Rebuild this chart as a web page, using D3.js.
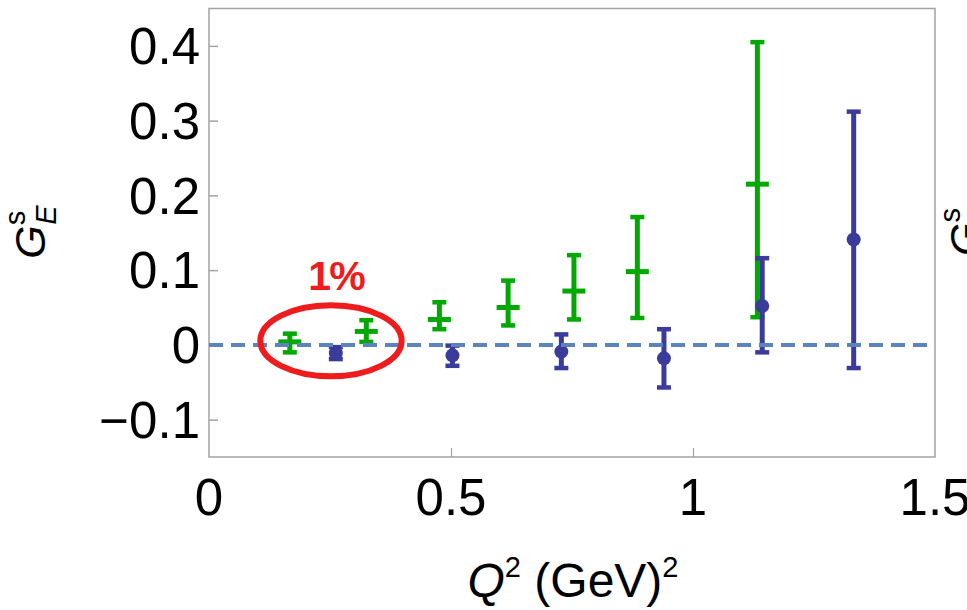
<!DOCTYPE html>
<html>
<head>
<meta charset="utf-8">
<script src="https://cdn.jsdelivr.net/npm/d3@7/dist/d3.min.js"></script>
<style>
  body { margin: 0; background: #ffffff; }
  svg { display: block; }
  text { font-family: "Liberation Sans", Arial, Helvetica, sans-serif; fill: #000; }
</style>
</head>
<body>
<svg id="chart" width="967" height="610"></svg>
<script>
// Axis ticks
const xTicks = [0, 0.5, 1, 1.5];
const xTickLabels = ["0", "0.5", "1", "1.5"];
const yTicks = [-0.1, 0, 0.1, 0.2, 0.3, 0.4];
const yTickLabels = ["\u22120.1", "0", "0.1", "0.2", "0.3", "0.4"];

// Green series: Q^2, central value, lower and upper end of the error bar
const greenQ2 = [0.167, 0.325, 0.476, 0.618, 0.754, 0.885, 1.133];
const greenVal = [0.004, 0.018, 0.034, 0.050, 0.072, 0.098, 0.215];
const greenLo = [-0.010, 0.004, 0.021, 0.026, 0.034, 0.036, 0.037];
const greenHi = [0.015, 0.033, 0.057, 0.086, 0.120, 0.171, 0.405];

// Blue series: Q^2, central value, lower and upper end of the error bar
const blueQ2 = [0.262, 0.503, 0.728, 0.940, 1.143, 1.332];
const blueVal = [-0.011, -0.014, -0.009, -0.018, 0.052, 0.141];
const blueLo = [-0.019, -0.028, -0.031, -0.057, -0.010, -0.031];
const blueHi = [-0.003, -0.001, 0.014, 0.021, 0.116, 0.312];

// Highlighted low-Q^2 region and its note
const noteText = "1%";
const highlightQ2 = [0.106, 0.398];   // horizontal extent of the ellipse
const highlightG = [-0.042, 0.053];   // vertical extent of the ellipse

const greenColor = "#00a800";
const blueColor = "#3b3b9c";
const zeroColor = "#5b84bf";
const frameColor = "#a3a3a3";
const noteColor = "#ee1c1c";

const svg = d3.select("#chart");
const plotLeft = 209, plotRight = 935, plotTop = 8.5, plotBottom = 457;

const x = d3.scaleLinear().domain([0, 1.5]).range([plotLeft, plotRight]);
const y = d3.scaleLinear().domain([-0.15, 0.45]).range([plotBottom, plotTop]);

// Plot frame
svg.append("rect")
  .attr("x", plotLeft).attr("y", plotTop)
  .attr("width", plotRight - plotLeft).attr("height", plotBottom - plotTop)
  .attr("fill", "none").attr("stroke", frameColor).attr("stroke-width", 1.5);

// Inward ticks on the left and bottom edges
const yAxis = d3.axisRight(y).tickValues(yTicks).tickSize(9).tickFormat("");
svg.append("g").attr("transform", `translate(${plotLeft},0)`).call(yAxis)
  .call(g => g.select(".domain").remove())
  .call(g => g.selectAll("line").attr("stroke", frameColor).attr("stroke-width", 1.5));

const xAxis = d3.axisTop(x).tickValues(xTicks.slice(1, -1)).tickSize(9).tickFormat("");
svg.append("g").attr("transform", `translate(0,${plotBottom})`).call(xAxis)
  .call(g => g.select(".domain").remove())
  .call(g => g.selectAll("line").attr("stroke", frameColor).attr("stroke-width", 1.2));

// Tick labels
svg.append("g").selectAll("text").data(yTicks).join("text")
  .attr("x", plotLeft - 9).attr("y", d => y(d)).attr("dy", "0.36em")
  .attr("text-anchor", "end").attr("font-size", 51)
  .text((d, i) => yTickLabels[i]);

svg.append("g").selectAll("text").data(xTicks).join("text")
  .attr("x", d => x(d)).attr("y", 515)
  .attr("text-anchor", "middle").attr("font-size", 51)
  .text((d, i) => xTickLabels[i]);

// Axis titles
const xTitle = svg.append("text").attr("x", 573).attr("y", 597)
  .attr("text-anchor", "middle").attr("font-size", 48);
xTitle.append("tspan").attr("font-style", "italic").text("Q");
xTitle.append("tspan").attr("font-size", 29).attr("dy", -20).text("2");
xTitle.append("tspan").attr("dy", 20).text("\u00a0(GeV)");
xTitle.append("tspan").attr("font-size", 29).attr("dy", -20).text("2");

function yTitle(tx, sub) {
  const t = svg.append("text")
    .attr("transform", `translate(${tx},232) rotate(-90)`)
    .attr("text-anchor", "middle").attr("font-size", 43);
  t.append("tspan").attr("font-style", "italic").text("G");
  t.append("tspan").attr("font-size", 29).attr("dy", -20).text("s");
  if (sub) {
    t.append("tspan").attr("font-size", 29).attr("font-style", "italic")
      .attr("dx", -14).attr("dy", 31).text(sub);
  }
  return t;
}
yTitle(45, "E");
yTitle(980, null);

// Error bars
function drawSeries(q2, val, lo, hi, color, cls) {
  const data = q2.map((q, i) => ({ q, v: val[i], lo: lo[i], hi: hi[i] }));
  const g = svg.append("g").attr("class", cls);
  g.selectAll("line.stem").data(data).join("line").attr("class", "stem")
    .attr("x1", d => x(d.q)).attr("x2", d => x(d.q))
    .attr("y1", d => y(d.lo)).attr("y2", d => y(d.hi))
    .attr("stroke", color).attr("stroke-width", 5);
  ["lo", "hi"].forEach(k => {
    g.selectAll("line.cap-" + k).data(data).join("line").attr("class", "cap-" + k)
      .attr("x1", d => x(d.q) - 7).attr("x2", d => x(d.q) + 7)
      .attr("y1", d => y(d[k])).attr("y2", d => y(d[k]))
      .attr("stroke", color).attr("stroke-width", 4.5);
  });
  return { g, data };
}

const green = drawSeries(greenQ2, greenVal, greenLo, greenHi, greenColor, "green");
green.g.selectAll("line.mark").data(green.data).join("line").attr("class", "mark")
  .attr("x1", d => x(d.q) - 11.5).attr("x2", d => x(d.q) + 11.5)
  .attr("y1", d => y(d.v)).attr("y2", d => y(d.v))
  .attr("stroke", greenColor).attr("stroke-width", 5);

const blue = drawSeries(blueQ2, blueVal, blueLo, blueHi, blueColor, "blue");
blue.g.selectAll("circle").data(blue.data).join("circle")
  .attr("cx", d => x(d.q)).attr("cy", d => y(d.v)).attr("r", 7)
  .attr("fill", blueColor);

// Zero reference line
svg.append("line")
  .attr("x1", plotLeft).attr("x2", plotRight).attr("y1", y(0)).attr("y2", y(0))
  .attr("stroke", zeroColor).attr("stroke-width", 4)
  .attr("stroke-dasharray", "14,8");

// Highlight ellipse and note
const ex = [x(highlightQ2[0]), x(highlightQ2[1])];
const ey = [y(highlightG[1]), y(highlightG[0])];
svg.append("ellipse")
  .attr("cx", (ex[0] + ex[1]) / 2).attr("cy", (ey[0] + ey[1]) / 2)
  .attr("rx", (ex[1] - ex[0]) / 2).attr("ry", (ey[1] - ey[0]) / 2)
  .attr("fill", "none").attr("stroke", noteColor).attr("stroke-width", 6);

svg.append("text").attr("x", 336).attr("y", 290)
  .attr("text-anchor", "middle").attr("font-size", 41).attr("font-weight", "bold")
  .style("fill", noteColor).attr("letter-spacing", -2)
  .text(noteText);
</script>
</body>
</html>
